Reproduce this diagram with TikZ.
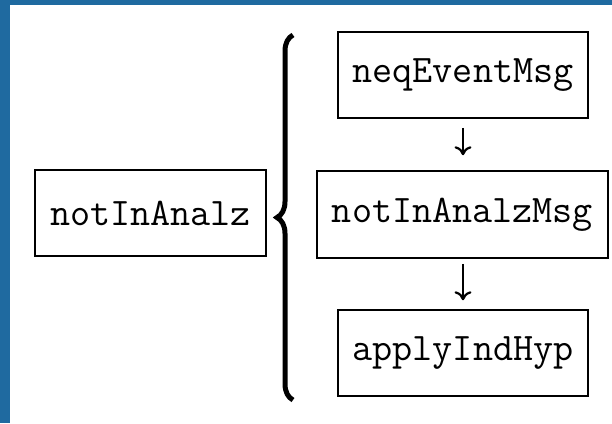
\documentclass[tikz,border=0pt]{standalone}
\usetikzlibrary{arrows.meta,decorations.pathreplacing}
\definecolor{frameblue}{RGB}{31,106,160}
\begin{document}
\begin{tikzpicture}[x=1pt,y=-1pt,
  box/.style={draw=black,line width=1.5pt,inner sep=0pt,
    font=\fontsize{39}{39}\selectfont\ttfamily},
  flow/.style={line width=2.2pt,-{Computer Modern Rightarrow[length=9pt,width=17pt]}}]
  \useasboundingbox (0,0) rectangle (612,423);
  % frame bands
  \fill[frameblue] (0,0) rectangle (612,5);
  \fill[frameblue] (0,0) rectangle (10,423);
  % boxes
  \node[box,minimum width=231pt,minimum height=86pt] (lemma) at (150.5,213) {notInAnalz};
  \node[box,minimum width=250pt,minimum height=86pt] (neq) at (463,75) {neqEventMsg};
  \node[box,minimum width=291pt,minimum height=87pt] (msg) at (462.5,214.5) {notInAnalzMsg};
  \node[box,minimum width=250pt,minimum height=86pt] (hyp) at (463,353) {applyIndHyp};
  % proof steps
  \draw[flow,shorten <=9pt,shorten >=15pt] (neq.south) -- (neq.south |- msg.north);
  \draw[flow,shorten <=5pt,shorten >=9pt] (hyp.north |- msg.south) -- (hyp.north);
  % brace grouping the steps
  \coordinate (bb) at (293,400);
  \coordinate (bt) at (293,35);
  \draw[line width=5pt,decorate,decoration={brace,amplitude=16pt}] (bb) -- (bt);
\end{tikzpicture}
\end{document}
